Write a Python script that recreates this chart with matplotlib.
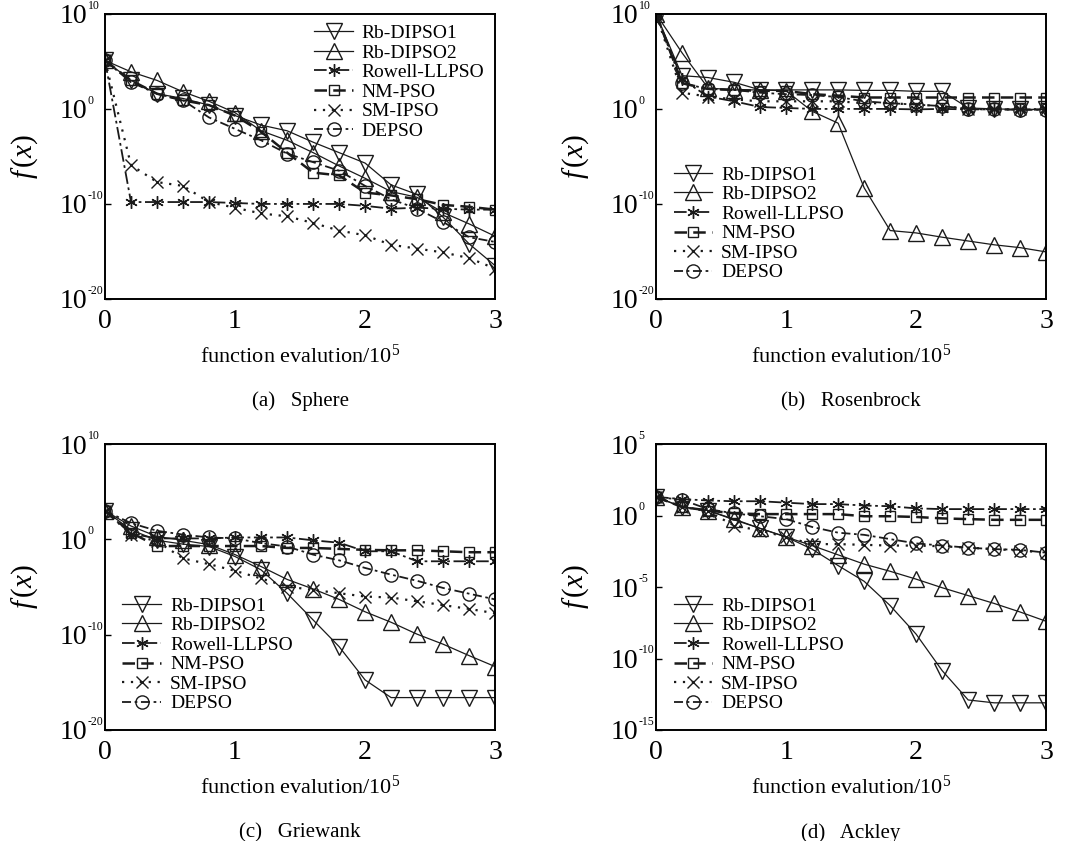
import numpy as np
import matplotlib
matplotlib.use('Agg')
import matplotlib.pyplot as plt
from matplotlib.ticker import NullLocator

plt.rcParams['font.family'] = ['Liberation Serif', 'DejaVu Serif']
plt.rcParams['mathtext.fontset'] = 'custom'
plt.rcParams['mathtext.rm'] = 'Liberation Serif'
plt.rcParams['mathtext.it'] = 'Liberation Serif:italic'

# evaluaciones (x 10^5)
fe = [0, 0.2, 0.4, 0.6, 0.8, 1.0, 1.2, 1.4, 1.6, 1.8, 2.0, 2.2, 2.4, 2.6, 2.8, 3.0]
names = ['Rb-DIPSO1', 'Rb-DIPSO2', 'Rowell-LLPSO', 'NM-PSO', 'SM-IPSO', 'DEPSO']

# log10 f(x)
#### Sphere ####
sph_rb1 = [5.1, 3.0, 1.6, 1.1, 0.4, -0.7, -1.7, -2.3, -3.5, -4.6, -5.7, -8.0, -9.0, -11.4, -14.2, -16.5]
sph_rb2 = [5.1, 3.9, 3.0, 1.8, 0.8, -0.4, -2.3, -3.3, -4.6, -6.0, -7.3, -8.7, -9.3, -10.9, -12.1, -13.4]
sph_rowell = [5.1, -9.8, -9.8, -9.8, -9.8, -9.9, -10.0, -10.0, -10.0, -10.0, -10.2, -10.5, -10.4, -10.5, -10.6, -10.6]
sph_nm = [5.1, 3.0, 1.6, 0.9, 0.4, -0.7, -2.4, -4.6, -6.7, -7.0, -8.8, -9.1, -9.5, -10.1, -10.3, -10.6]
sph_sm = [5.1, -5.9, -7.7, -8.1, -9.8, -10.4, -11.0, -11.3, -12.0, -12.8, -13.3, -14.3, -14.7, -15.1, -15.7, -16.8]
sph_de = [5.1, 2.8, 1.6, 0.9, -0.9, -2.1, -3.3, -4.7, -5.6, -6.5, -8.1, -9.5, -10.5, -11.9, -13.5, -14.0]

#### Rosenbrock ####
ros_rb1 = [10.0, 3.5, 3.3, 2.8, 2.0, 2.0, 2.0, 2.0, 1.95, 1.95, 1.85, 1.85, 0.1, 0.0, -0.05, -0.05]
ros_rb2 = [10.0, 5.9, 2.2, 2.0, 2.0, 1.9, -0.25, -1.5, -8.3, -12.8, -13.05, -13.5, -13.9, -14.3, -14.6, -15.05]
ros_rowell = [10.0, 3.1, 1.3, 0.8, 0.2, 0.1, 0.0, 0.0, 0.0, 0.0, -0.05, 0.0, -0.05, -0.05, -0.05, -0.05]
ros_nm = [10.0, 2.7, 2.1, 2.0, 1.9, 1.9, 1.55, 1.4, 1.2, 1.2, 1.2, 1.2, 1.2, 1.2, 1.2, 1.2]
ros_sm = [10.0, 1.7, 1.3, 1.0, 0.8, 0.8, 0.8, 0.8, 0.6, 0.6, 0.45, 0.3, 0.0, -0.05, -0.05, -0.05]
ros_de = [10.0, 2.7, 2.1, 2.0, 1.7, 1.55, 1.45, 1.25, 0.8, 0.6, 0.45, 0.3, 0.0, -0.05, -0.1, -0.1]

#### Griewank ####
gri_rb1 = [3.0, 1.0, -0.1, -0.5, -0.75, -1.8, -3.2, -5.65, -8.45, -11.25, -14.75, -16.6, -16.6, -16.6, -16.6, -16.6]
gri_rb2 = [3.0, 1.4, 0.3, -0.1, -0.55, -1.6, -2.85, -4.2, -5.2, -6.3, -7.6, -8.7, -9.95, -11.0, -12.2, -13.35]
gri_rowell = [3.0, 0.6, 0.1, 0.1, 0.1, 0.2, 0.2, 0.2, -0.1, -0.35, -1.25, -1.25, -2.3, -2.3, -2.3, -2.3]
gri_nm = [3.0, 0.7, -0.7, -0.7, -0.7, -0.7, -0.7, -0.9, -0.9, -1.0, -1.1, -1.15, -1.15, -1.25, -1.35, -1.35]
gri_sm = [3.0, 0.5, -0.2, -2.0, -2.6, -3.3, -4.1, -4.95, -5.3, -5.65, -6.0, -6.1, -6.5, -6.9, -7.3, -7.75]
gri_de = [3.0, 1.7, 0.9, 0.5, 0.2, 0.1, -0.4, -0.75, -1.6, -2.2, -3.0, -3.7, -4.35, -5.1, -5.7, -6.3]

#### Ackley ####
ack_rb1 = [1.3, 0.6, 0.35, -0.3, -0.9, -1.5, -2.35, -3.5, -4.6, -6.3, -8.3, -10.85, -12.9, -13.1, -13.1, -13.1]
ack_rb2 = [1.3, 0.6, 0.35, -0.25, -0.9, -1.5, -2.1, -2.75, -3.4, -3.9, -4.45, -5.05, -5.6, -6.15, -6.75, -7.4]
ack_rowell = [1.3, 1.15, 1.05, 1.0, 1.0, 0.9, 0.8, 0.8, 0.7, 0.65, 0.5, 0.45, 0.45, 0.45, 0.45, 0.45]
ack_nm = [1.3, 0.6, 0.35, 0.15, 0.1, 0.1, 0.1, 0.1, -0.05, -0.05, -0.1, -0.2, -0.25, -0.3, -0.3, -0.3]
ack_sm = [1.3, 0.6, 0.3, -0.7, -1.05, -1.5, -2.0, -2.0, -2.05, -2.1, -2.1, -2.15, -2.25, -2.35, -2.45, -2.6]
ack_de = [1.3, 1.1, 0.45, 0.15, -0.05, -0.25, -0.8, -1.2, -1.35, -1.65, -1.95, -2.1, -2.25, -2.35, -2.4, -2.6]

# exponentes de las marcas del eje y
yexp_20 = [-20, -10, 0, 10]
yexp_15 = [-15, -10, -5, 0, 5]

paneles = [
    ([sph_rb1, sph_rb2, sph_rowell, sph_nm, sph_sm, sph_de], yexp_20, '(a)   Sphere', 'upper right'),
    ([ros_rb1, ros_rb2, ros_rowell, ros_nm, ros_sm, ros_de], yexp_20, '(b)   Rosenbrock', 'lower left'),
    ([gri_rb1, gri_rb2, gri_rowell, gri_nm, gri_sm, gri_de], yexp_20, '(c)   Griewank', 'lower left'),
    ([ack_rb1, ack_rb2, ack_rowell, ack_nm, ack_sm, ack_de], yexp_15, '(d)   Ackley', 'lower left'),
]

estilos = [
    (dict(ls='-', lw=0.9), dict(marker='v', ms=11)),
    (dict(ls='-', lw=0.9), dict(marker='^', ms=11)),
    (dict(ls=(0, (7, 2, 1.5, 2)), lw=1.3), dict(marker=(6, 2, 0), ms=9)),
    (dict(ls=(0, (5, 2.5)), lw=1.8), dict(marker='s', ms=7.5)),
    (dict(ls=(0, (1, 3)), lw=1.6), dict(marker='x', ms=8)),
    (dict(ls=(0, (5, 2, 1.5, 2)), lw=1.3), dict(marker='o', ms=9.5)),
]

pos = [[0.0982, 0.6445, 0.365, 0.339],
       [0.6137, 0.6445, 0.365, 0.339],
       [0.0982, 0.132, 0.365, 0.340],
       [0.6137, 0.132, 0.365, 0.340]]

fig = plt.figure(figsize=(10.69, 8.41), dpi=100)
for k, (series, yexp, titulo, locleg) in enumerate(paneles):
    ax = fig.add_axes(pos[k])
    x = np.array(fe)
    for s, nm, (lsty, mk) in zip(series, names, estilos):
        y = 10.0 ** np.array(s)
        ax.semilogy(x, y, color='#1a1a1a', label=nm, mfc='none', mec='#1a1a1a',
                    mew=1.0, **lsty, **mk)
    ax.set_xlim(0, 3)
    ax.set_ylim(10.0 ** yexp[0], 10.0 ** yexp[-1])
    ax.set_xticks([0, 1, 2, 3])
    ax.set_yticks([10.0 ** e for e in yexp])
    ax.set_yticklabels(['10'] * len(yexp))
    ax.yaxis.set_minor_locator(NullLocator())
    ax.tick_params(axis='y', direction='in', length=4, width=1, labelsize=20, pad=13)
    ax.tick_params(axis='x', length=0, labelsize=20, pad=7)
    # exponentes pequeños
    for e in yexp:
        ax.annotate(str(e), xy=(0, 10.0 ** e), xycoords=('axes fraction', 'data'),
                    xytext=(-12.5, 1.5), textcoords='offset points',
                    ha='left', va='bottom', fontsize=8.5)
    for sp in ax.spines.values():
        sp.set_linewidth(1.4)
    ax.set_ylabel(r'$f\,(x)$', fontsize=21, labelpad=14)
    ax.set_xlabel(r'function evalution/10$^5$', fontsize=16, labelpad=8)
    ax.text(0.5, -0.36, titulo, transform=ax.transAxes, ha='center', va='center', fontsize=15)
    pad = 0.15 if locleg == 'upper right' else 0.5
    ax.legend(loc=locleg, frameon=False, fontsize=14, handlelength=2.0,
              handletextpad=0.45, labelspacing=0.1, borderaxespad=pad)

plt.savefig('out.png', dpi=100)
